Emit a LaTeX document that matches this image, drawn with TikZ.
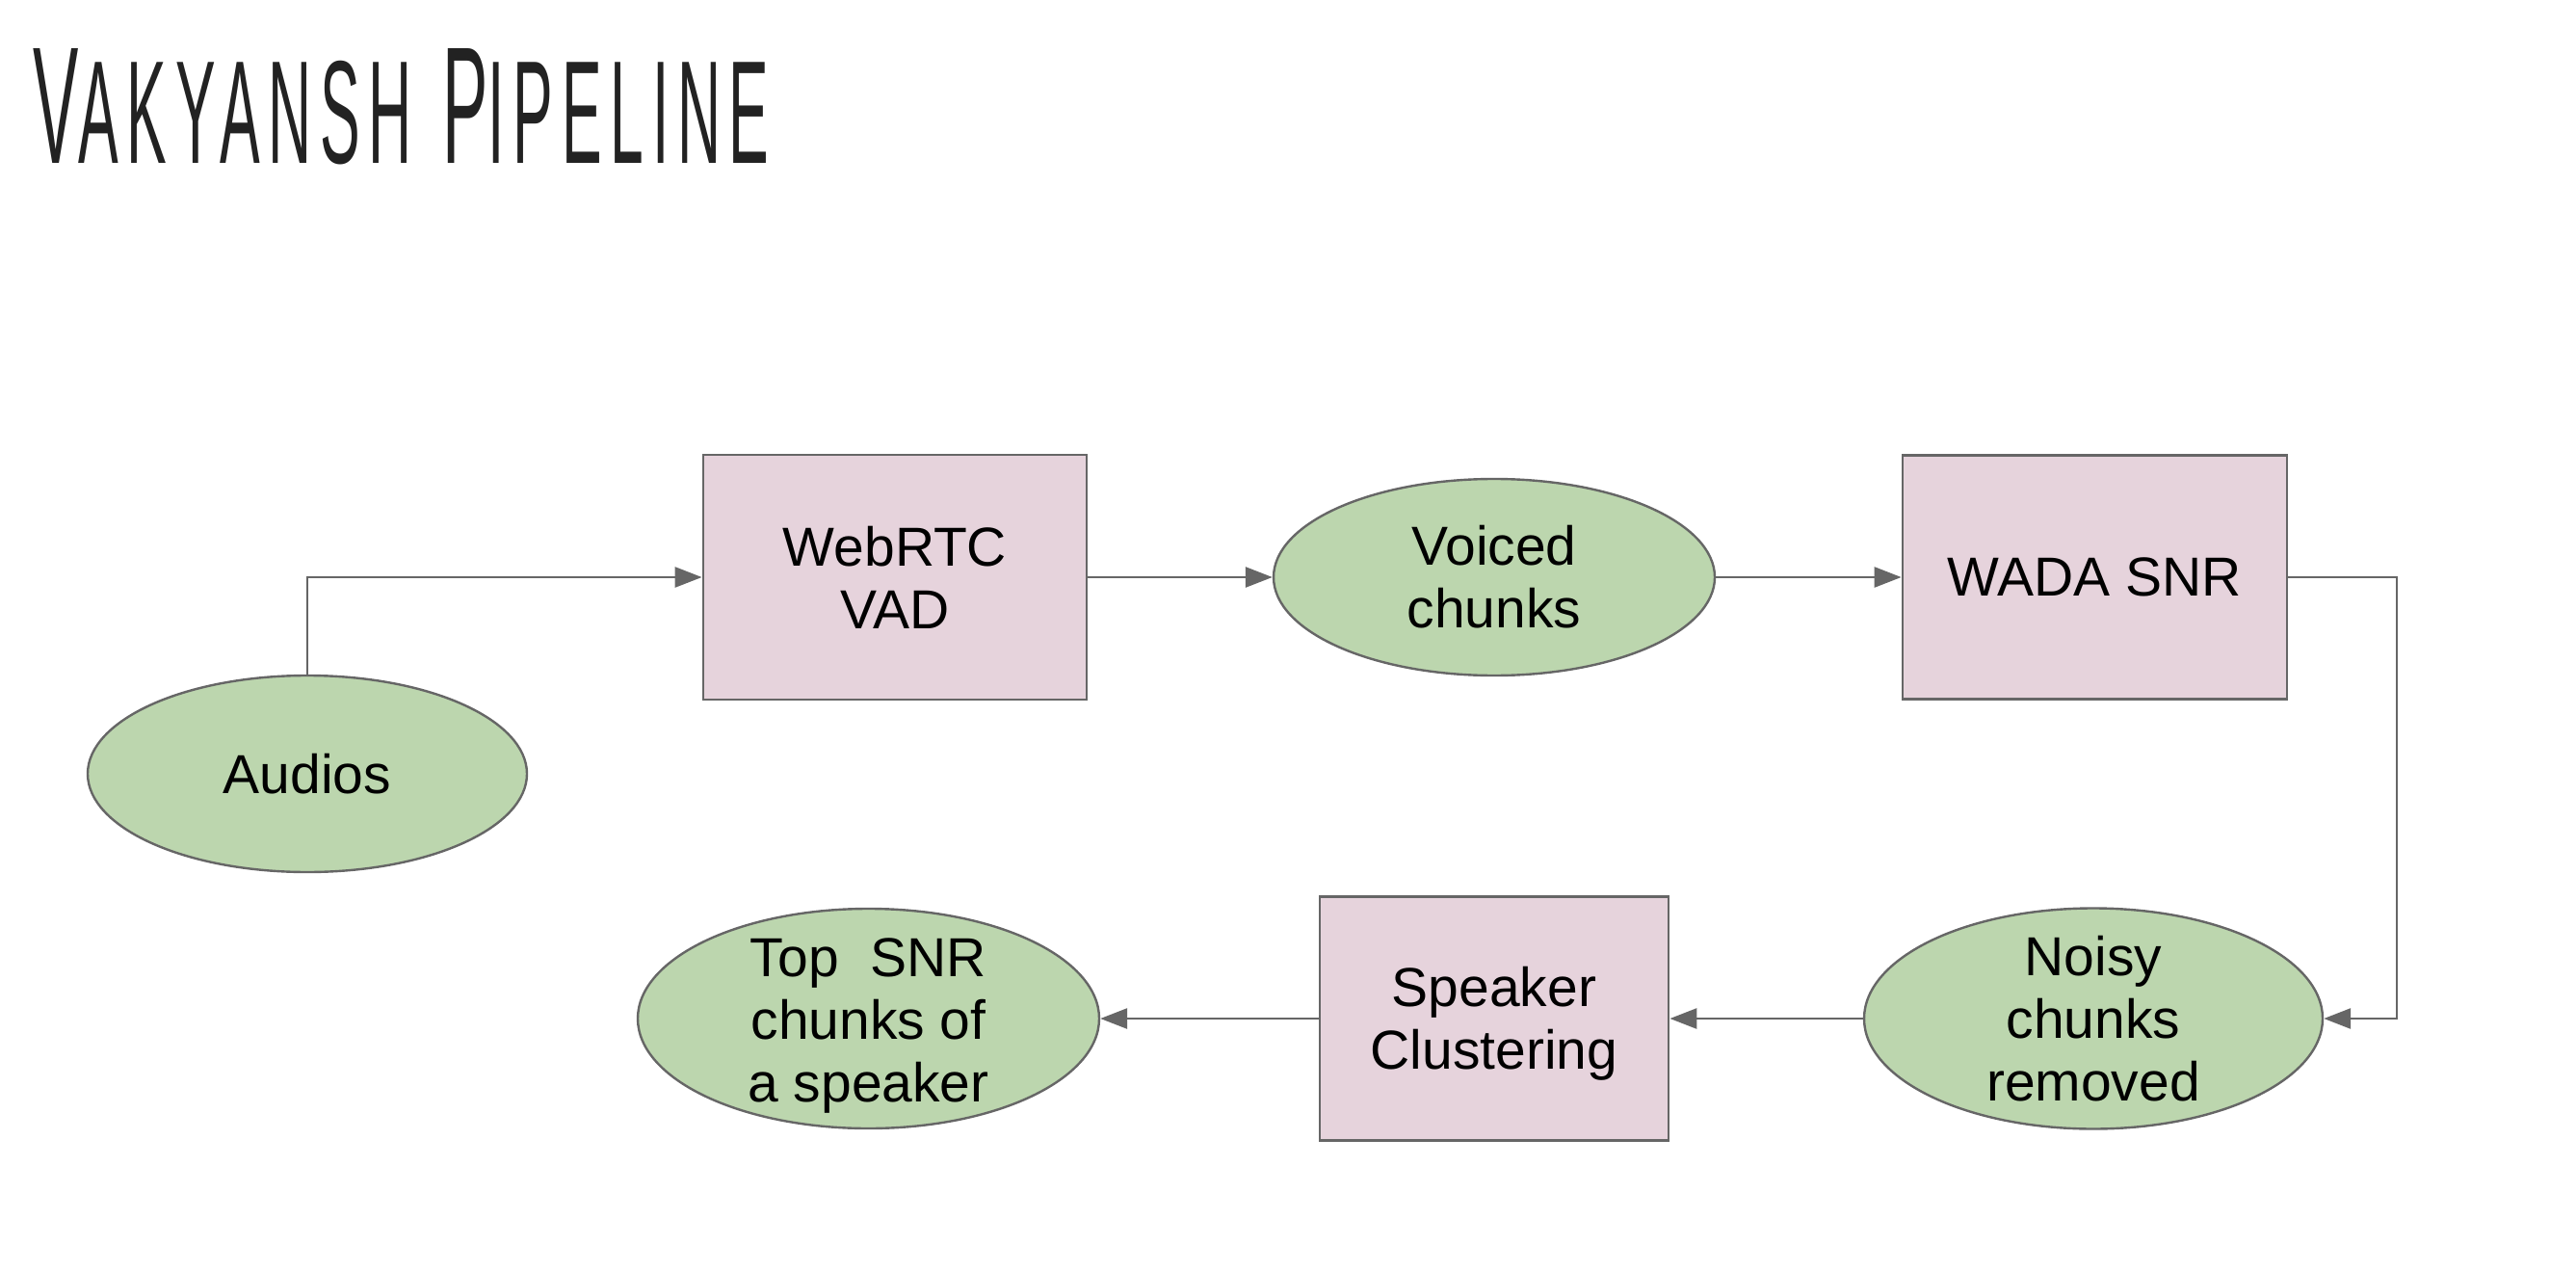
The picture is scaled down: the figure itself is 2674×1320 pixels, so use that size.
\documentclass[tikz,border=0pt]{standalone}
\usepackage{graphicx}
\usepackage{fontspec}
\setmainfont{Liberation Sans}
\newfontfamily\titlefont[LetterSpace=14]{Liberation Sans}
\usetikzlibrary{shapes.geometric,arrows.meta}
\definecolor{boxfill}{HTML}{E6D3DC}
\definecolor{ellfill}{HTML}{BCD6AE}
\definecolor{edge}{HTML}{666666}
\definecolor{titlecol}{HTML}{222222}
\begin{document}
\begin{tikzpicture}[x=0.5pt,y=-0.5pt,
  procbox/.style={draw=edge,fill=boxfill,line width=1.4pt,rectangle,inner sep=0pt},
  databall/.style={draw=edge,fill=ellfill,line width=1.2pt,ellipse,inner sep=0pt},
  lbl/.style={font=\fontsize{28.5}{32.5}\selectfont,align=center,inner sep=0pt,text=black},
  flow/.style={draw=edge,line width=1.35pt,-{Triangle[length=14pt,width=10.5pt]}}]
\useasboundingbox (0,0) rectangle (2674,1320);

% title
\node[anchor=base west,inner sep=0pt,text=titlecol] (title) at (34,170)
  {\resizebox{382pt}{59.5pt}{\titlefont{\fontsize{20}{20}\selectfont V}{\fontsize{17.6}{20}\selectfont AKYANSH}\hspace{9pt}{\fontsize{20}{20}\selectfont P}{\fontsize{17.6}{20}\selectfont IPELINE}}};

% nodes
\node[databall,minimum width=228pt,minimum height=102pt] (audios) at (319,803) {};
\node[lbl] (audiosT) at (audios) {Audios};

\node[procbox,minimum width=199pt,minimum height=127pt] (webrtc) at (929,599) {};
\node[lbl] (webrtcT) at (webrtc) {WebRTC\\VAD};

\node[databall,minimum width=229pt,minimum height=102pt] (voiced) at (1551,599) {};
\node[lbl] (voicedT) at (voiced) {Voiced\\chunks};

\node[procbox,minimum width=199.5pt,minimum height=126.5pt] (wada) at (2174.5,599) {};
\node[lbl] (wadaT) at (wada) {WADA SNR};

\node[databall,minimum width=238pt,minimum height=114.5pt] (noisy) at (2173,1057) {};
\node[lbl] (noisyT) at (noisy) {Noisy\\chunks\\removed};

\node[procbox,minimum width=181pt,minimum height=126.5pt] (speaker) at (1551,1057) {};
\node[lbl] (speakerT) at ([yshift=-2.5pt]speaker.center) {Speaker\\Clustering};

\node[databall,minimum width=239.5pt,minimum height=114pt] (top) at (901.5,1057) {};
\node[lbl] (topT) at ([yshift=-4pt]top.center) {Top\hspace{0.3em} SNR\\chunks of\\a speaker};

% connectors
\coordinate (turn) at (2488,599);
\draw[flow] (audios.north) |- (webrtc.west);
\draw[flow] (webrtc.east) -- (voiced.west);
\draw[flow] (voiced.east) -- (wada.west);
\draw[flow] (wada.east) -- (turn) |- (noisy.east);
\draw[flow] (noisy.west) -- (speaker.east);
\draw[flow] (speaker.west) -- (top.east);
\end{tikzpicture}
\end{document}
